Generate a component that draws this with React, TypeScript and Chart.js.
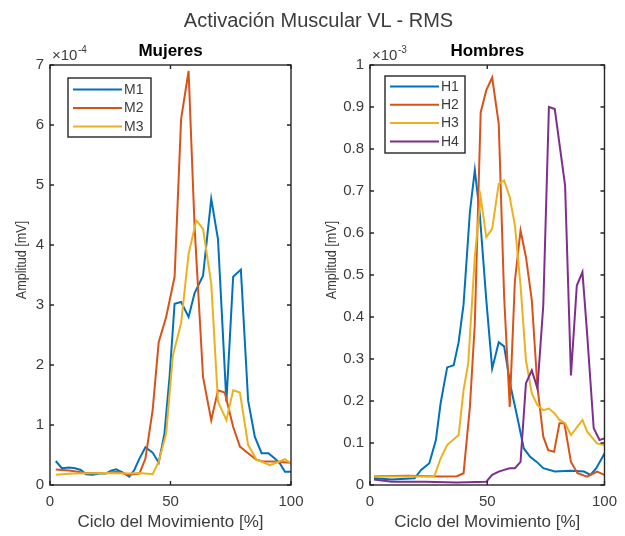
import { useEffect, useRef } from 'react';
import { Chart, registerables } from 'chart.js';

Chart.register(...registerables);

const FONT = 'Arial, "Liberation Sans", Helvetica, sans-serif';
const INK = '#262626';
const TEXT = '#3c3c3c';

const MAIN_TITLE = 'Activación Muscular VL - RMS';
const X_LABEL = 'Ciclo del Movimiento [%]';
const Y_LABEL = 'Amplitud [mV]';
const X_TICKS = [0, 50, 100];

// ---------- Mujeres (values in ×10^-4 mV) ----------
const M_NAMES = ['M1', 'M2', 'M3'];
const M_COLORS = ['#0072BD', '#D95319', '#EDB120'];
const M_Y_TICKS = [0, 1, 2, 3, 4, 5, 6, 7];

const M1_X = [2.4, 4.9, 7.9, 10.4, 12.8, 14.9, 17.6, 20.4, 23.2, 25.3, 27.4, 30.1, 32.9, 35, 37.1, 39.6, 42.6, 45.1, 47.5, 49.6, 51.7, 54.4, 57.5, 60, 63.5, 66.9, 69.7, 73.2, 76, 79.2, 82.2, 85, 87.8, 90.6, 93.3, 95.4, 97.5, 100];
const M1_Y = [0.40, 0.28, 0.29, 0.28, 0.25, 0.18, 0.17, 0.19, 0.19, 0.24, 0.26, 0.21, 0.14, 0.25, 0.44, 0.63, 0.54, 0.37, 0.86, 1.8, 3.02, 3.05, 2.8, 3.2, 3.49, 4.77, 4.10, 1.39, 3.47, 3.59, 1.41, 0.8, 0.53, 0.53, 0.44, 0.36, 0.22, 0.22];

const M2_X = [2.4, 7.9, 14.9, 23.2, 27.4, 32.9, 37.1, 39.6, 42.6, 45.1, 48.2, 51.7, 54.4, 57.5, 60, 63.5, 66.9, 69.7, 72.5, 76, 78.8, 82.2, 85.7, 88.5, 92.6, 100];
const M2_Y = [0.26, 0.24, 0.2, 0.2, 0.22, 0.17, 0.19, 0.44, 1.25, 2.38, 2.8, 3.47, 6.1, 6.9, 4.3, 1.8, 1.08, 1.58, 1.54, 0.97, 0.64, 0.53, 0.42, 0.39, 0.39, 0.37];

const M3_X = [2.4, 9.3, 23.2, 32.9, 37.1, 42.6, 45.1, 48.2, 51, 54.4, 57.5, 60.7, 63.5, 66.9, 69.7, 73.2, 76, 78.8, 82.2, 85.7, 91.3, 97.5, 100];
const M3_Y = [0.17, 0.19, 0.2, 0.19, 0.2, 0.18, 0.39, 0.86, 2.16, 2.7, 3.85, 4.41, 4.27, 3.36, 1.39, 1.08, 1.58, 1.54, 0.67, 0.42, 0.33, 0.43, 0.36];

// ---------- Hombres (values in ×10^-3 mV) ----------
const H_NAMES = ['H1', 'H2', 'H3', 'H4'];
const H_COLORS = ['#0072BD', '#D95319', '#EDB120', '#7E2F8E'];
const H_Y_TICKS = [0, 0.1, 0.2, 0.3, 0.4, 0.5, 0.6, 0.7, 0.8, 0.9, 1];

const H1_X = [1.7, 9.3, 19, 21.8, 25.3, 28.1, 30.1, 32.9, 35.7, 37.8, 39.9, 42.6, 44.7, 46.8, 49.6, 52.1, 54.9, 57.2, 60, 62.8, 65.6, 68.3, 71.1, 73.9, 78.8, 85.7, 91.3, 94, 96.5, 100];
const H1_Y = [0.016, 0.013, 0.016, 0.036, 0.052, 0.107, 0.194, 0.28, 0.285, 0.34, 0.43, 0.65, 0.75, 0.646, 0.44, 0.277, 0.34, 0.33, 0.234, 0.162, 0.087, 0.067, 0.055, 0.04, 0.032, 0.034, 0.032, 0.024, 0.04, 0.075];

const H2_X = [1.7, 16.3, 30.1, 37.1, 39.9, 42.6, 44.7, 47.2, 49.6, 52.1, 54.9, 57.2, 59.6, 61.8, 64.2, 66.5, 69, 71.4, 73.9, 76, 78.5, 80.8, 82.9, 85.7, 88.5, 92.6, 96.8, 100];
const H2_Y = [0.021, 0.022, 0.02, 0.021, 0.028, 0.186, 0.384, 0.887, 0.94, 0.97, 0.86, 0.448, 0.186, 0.487, 0.606, 0.543, 0.44, 0.234, 0.115, 0.083, 0.079, 0.147, 0.147, 0.055, 0.028, 0.02, 0.032, 0.024];

const H3_X = [1.7, 16.3, 27.4, 30.1, 32.9, 37.8, 39.9, 41.9, 44.7, 47.2, 49.6, 52.1, 54.9, 57.2, 59.6, 61.8, 64.2, 66.5, 69, 71.4, 73.9, 76.3, 78.8, 80.8, 83.2, 85.7, 90.6, 92.6, 96.8, 100];
const H3_Y = [0.02, 0.02, 0.02, 0.063, 0.095, 0.119, 0.226, 0.29, 0.543, 0.685, 0.59, 0.61, 0.717, 0.725, 0.685, 0.618, 0.475, 0.297, 0.218, 0.19, 0.178, 0.182, 0.17, 0.155, 0.147, 0.119, 0.155, 0.127, 0.099, 0.095];

const H4_X = [1.7, 9.3, 23.2, 37.1, 49.6, 52.1, 54.9, 57.2, 59.6, 61.8, 64.2, 66.5, 69, 71.4, 73.9, 76.3, 78.8, 83.2, 85.7, 88.2, 90.6, 92.6, 95.4, 97.9, 100];
const H4_Y = [0.013, 0.008, 0.008, 0.006, 0.008, 0.024, 0.032, 0.036, 0.04, 0.04, 0.055, 0.242, 0.273, 0.23, 0.428, 0.9, 0.895, 0.713, 0.261, 0.475, 0.507, 0.36, 0.135, 0.107, 0.111];

type LegendBox = { x: number; y: number; w: number; h: number; first: number; step: number };

type PanelSpec = {
  title: string;
  exponent: string;
  names: string[];
  colors: string[];
  xs: number[][];
  ys: number[][];
  yTicks: number[];
  left: number;
  width: number;
  yAxisWidth: number;
  padRight: number;
  yLabelX: number;
  legend: LegendBox;
};

const framePlugin = {
  id: 'matlabFrame',
  afterDraw(chart: any, _args: any, opts: any) {
    const ctx: CanvasRenderingContext2D = chart.ctx;
    const { left, right, top, bottom } = chart.chartArea;
    const xs = chart.scales.x;
    const ys = chart.scales.y;
    ctx.save();
    // box
    ctx.strokeStyle = INK;
    ctx.lineWidth = 1.4;
    ctx.strokeRect(left, top, right - left, bottom - top);
    // inward ticks on all sides
    const tl = 4;
    ctx.beginPath();
    xs.ticks.forEach((t: any) => {
      const p = xs.getPixelForValue(t.value);
      ctx.moveTo(p, bottom);
      ctx.lineTo(p, bottom - tl);
      ctx.moveTo(p, top);
      ctx.lineTo(p, top + tl);
    });
    ys.ticks.forEach((t: any) => {
      const p = ys.getPixelForValue(t.value);
      ctx.moveTo(left, p);
      ctx.lineTo(left + tl, p);
      ctx.moveTo(right, p);
      ctx.lineTo(right - tl, p);
    });
    ctx.stroke();

    // subplot title
    ctx.fillStyle = '#000000';
    ctx.font = `bold 17px ${FONT}`;
    ctx.textAlign = 'center';
    ctx.textBaseline = 'middle';
    ctx.fillText(opts.title, (left + right) / 2, top - 14);

    // exponent
    ctx.fillStyle = TEXT;
    ctx.textAlign = 'left';
    ctx.textBaseline = 'alphabetic';
    ctx.font = `15px ${FONT}`;
    const base = '\u00d710';
    ctx.fillText(base, left + 2, top - 5);
    const bw = ctx.measureText(base).width;
    ctx.font = `10px ${FONT}`;
    ctx.fillText(opts.exponent, left + 2 + bw + 0.5, top - 12);

    // y label (rotated)
    ctx.save();
    ctx.translate(opts.yLabelX, 260);
    ctx.rotate(-Math.PI / 2);
    ctx.scale(0.84, 1);
    ctx.font = `15px ${FONT}`;
    ctx.textAlign = 'center';
    ctx.textBaseline = 'middle';
    ctx.fillText(Y_LABEL, 0, 0);
    ctx.restore();

    // legend
    const lg: LegendBox = opts.legend;
    ctx.fillStyle = '#ffffff';
    ctx.fillRect(lg.x, lg.y, lg.w, lg.h);
    ctx.strokeStyle = INK;
    ctx.lineWidth = 1.4;
    ctx.strokeRect(lg.x, lg.y, lg.w, lg.h);
    ctx.font = `14px ${FONT}`;
    ctx.textBaseline = 'middle';
    ctx.textAlign = 'left';
    chart.data.datasets.forEach((ds: any, i: number) => {
      const yy = lg.y + lg.first + i * lg.step;
      ctx.strokeStyle = ds.borderColor;
      ctx.lineWidth = 2;
      ctx.beginPath();
      ctx.moveTo(lg.x + 5, yy);
      ctx.lineTo(lg.x + 54, yy);
      ctx.stroke();
      ctx.fillStyle = TEXT;
      ctx.fillText(ds.label, lg.x + 56, yy + 0.5);
    });
    ctx.restore();
  },
};

const PANELS: PanelSpec[] = [
  {
    title: 'Mujeres',
    exponent: '-4',
    names: M_NAMES,
    colors: M_COLORS,
    xs: [M1_X, M2_X, M3_X],
    ys: [M1_Y, M2_Y, M3_Y],
    yTicks: M_Y_TICKS,
    left: 0,
    width: 312,
    yAxisWidth: 50,
    padRight: 21,
    yLabelX: 22,
    legend: { x: 68, y: 78, w: 83, h: 59, first: 11.5, step: 18.5 },
  },
  {
    title: 'Hombres',
    exponent: '-3',
    names: H_NAMES,
    colors: H_COLORS,
    xs: [H1_X, H2_X, H3_X, H4_X],
    ys: [H1_Y, H2_Y, H3_Y, H4_Y],
    yTicks: H_Y_TICKS,
    left: 312,
    width: 313,
    yAxisWidth: 58,
    padRight: 13,
    yLabelX: 20,
    legend: { x: 73, y: 76, w: 80, h: 77, first: 10.5, step: 18.3 },
  },
];

function fmtTick(v: number): string {
  return String(Number(v.toFixed(2)));
}

function Panel({ spec }: { spec: PanelSpec }) {
  const ref = useRef<HTMLCanvasElement | null>(null);
  useEffect(() => {
    if (!ref.current) return;
    const n = spec.names.length;
    const datasets = spec.names.map((name, i) => ({
      label: name,
      data: spec.xs[i].map((x, k) => ({ x, y: spec.ys[i][k] })),
      borderColor: spec.colors[i],
      backgroundColor: spec.colors[i],
      borderWidth: 2,
      pointRadius: 0,
      tension: 0,
      fill: false,
      order: n - i,
    }));
    const yMin = spec.yTicks[0];
    const yMax = spec.yTicks[spec.yTicks.length - 1];
    const chart = new Chart(ref.current, {
      type: 'line',
      data: { datasets },
      options: {
        responsive: false,
        animation: false,
        events: [],
        layout: { padding: { left: 0, top: 65, right: spec.padRight, bottom: 0 } },
        scales: {
          x: {
            type: 'linear',
            min: 0,
            max: 100,
            grid: { display: false, drawTicks: false },
            border: { display: false },
            ticks: {
              color: TEXT,
              font: { family: FONT, size: 15 },
              padding: 8,
              maxRotation: 0,
              autoSkip: false,
              callback: (v: any) => fmtTick(Number(v)),
            },
            afterBuildTicks: (s: any) => {
              s.ticks = X_TICKS.map((v) => ({ value: v }));
            },
            title: {
              display: true,
              text: X_LABEL,
              color: TEXT,
              font: { family: FONT, size: 17 },
              padding: { top: 0, bottom: 3 },
            },
            afterFit: (s: any) => {
              s.height = 51;
            },
          },
          y: {
            type: 'linear',
            min: yMin,
            max: yMax,
            grid: { display: false, drawTicks: false },
            border: { display: false },
            ticks: {
              color: TEXT,
              font: { family: FONT, size: 15 },
              padding: 6,
              autoSkip: false,
              callback: (v: any) => fmtTick(Number(v)),
            },
            afterBuildTicks: (s: any) => {
              s.ticks = spec.yTicks.map((v) => ({ value: v }));
            },
            afterFit: (s: any) => {
              s.width = spec.yAxisWidth;
            },
          },
        },
        plugins: {
          legend: { display: false },
          tooltip: { enabled: false },
          title: { display: false },
          matlabFrame: {
            title: spec.title,
            exponent: spec.exponent,
            yLabelX: spec.yLabelX,
            legend: spec.legend,
          },
        } as any,
      },
      plugins: [framePlugin],
    });
    return () => chart.destroy();
  }, [spec]);
  return (
    <canvas
      ref={ref}
      width={spec.width}
      height={536}
      style={{ position: 'absolute', left: spec.left, top: 0, width: spec.width, height: 536 }}
    />
  );
}

export default function App() {
  return (
    <div style={{ position: 'absolute', left: 0, top: 0, width: 625, height: 536, background: '#ffffff', overflow: 'hidden' }}>
      {PANELS.map((p) => (
        <Panel key={p.title} spec={p} />
      ))}
      <div
        style={{
          position: 'absolute',
          left: 6,
          top: 0,
          width: 625,
          height: 40,
          lineHeight: '40px',
          textAlign: 'center',
          fontFamily: FONT,
          fontSize: 20,
          color: TEXT,
          whiteSpace: 'nowrap',
        }}
      >
        {MAIN_TITLE}
      </div>
    </div>
  );
}
